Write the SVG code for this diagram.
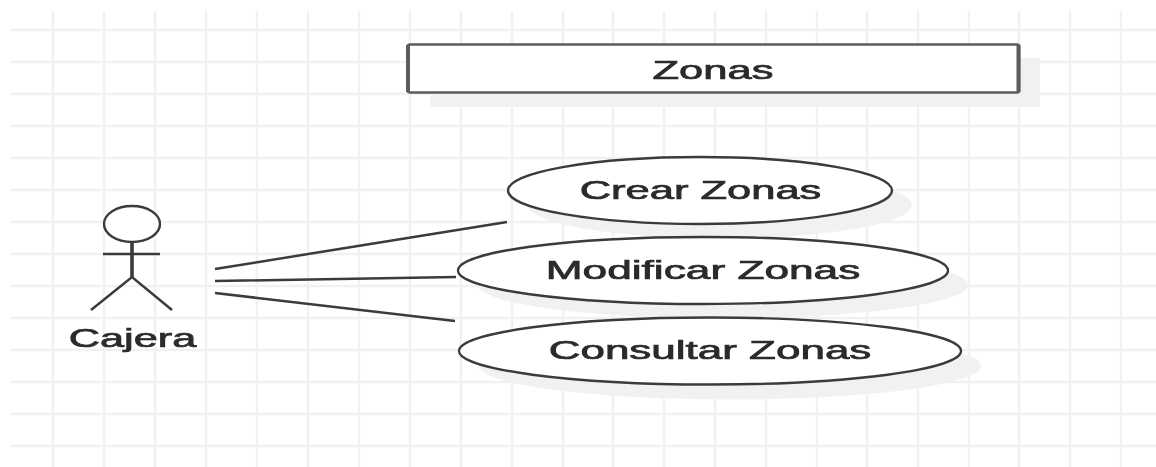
<svg xmlns="http://www.w3.org/2000/svg" width="1156" height="467" viewBox="0 0 1156 467">
<style>
.g{stroke:#f1f1f1;stroke-width:2.400;fill:none}
.sh{fill:#f1f1f1;stroke:none}
.n{fill:#fff;stroke:#3a3a3a;stroke-width:2.400}
.l{stroke:#3a3a3a;stroke-width:2.500;fill:none}
.t{font-family:"Liberation Sans",Arial,sans-serif;font-size:25px;fill:#2a2a2a;text-anchor:middle;stroke:#2a2a2a;stroke-width:.7}
</style>
<defs><filter id="b" x="-5%" y="-5%" width="110%" height="110%"><feGaussianBlur stdDeviation="0.7"/></filter></defs>
<rect width="1156" height="467" fill="#fff"/>
<g filter="url(#b)">
<path class="g" d="M11 30H1156M11 62H1156M11 94H1156M11 126H1156M11 158H1156M11 190H1156M11 222H1156M11 254H1156M11 286H1156M11 318H1156M11 350H1156M11 382H1156M11 414H1156M11 446H1156"/>
<path class="g" d="M53 11V467M104 11V467M155 11V467M206 11V467M257 11V467M308 11V467M359 11V467M410 11V467M461 11V467M512 11V467M563 11V467M613 11V467M664 11V467M715 11V467M766 11V467M817 11V467M867 11V467M918 11V467M969 11V467M1019 11V467M1070 11V467M1121 11V467"/>
<g id="connectors">
<path class="l" d="M215 269L507 222M215 281L456 277M215 293L455 321"/>
</g>
<g id="actor-cajera">
<ellipse class="n" cx="132" cy="224" rx="28" ry="18"/>
<path class="l" d="M103 254H160M91 310L132 277L172 310"/>
<path d="M132 242V277" fill="none" stroke="#3a3a3a" stroke-width="3.600"/>
<text class="t" transform="translate(132.500 347) scale(1.730 1)">Cajera</text>
</g>
<g id="system-zonas">
<rect class="sh" x="430" y="58" width="610" height="49"/>
<rect x="408" y="44.500" width="611" height="48" rx="2" fill="#fff" stroke="#5c5c5c" stroke-width="2.600"/>
<path d="M408 45V92M1018.500 45V92" fill="none" stroke="#5c5c5c" stroke-width="4"/>
<text class="t" transform="translate(713 79) scale(1.740 1)">Zonas</text>
</g>
<g id="usecase-crear">
<ellipse class="sh" cx="720" cy="205" rx="192" ry="33.500"/>
<ellipse class="n" cx="700" cy="190.500" rx="192" ry="33.500"/>
<text class="t" transform="translate(700.500 199) scale(1.740 1)">Crear Zonas</text>
</g>
<g id="usecase-modificar">
<ellipse class="sh" cx="723" cy="285" rx="245" ry="33.500"/>
<ellipse class="n" cx="703" cy="270.500" rx="245" ry="33.500"/>
<text class="t" transform="translate(703 279) scale(1.770 1)">Modificar Zonas</text>
</g>
<g id="usecase-consultar">
<ellipse class="sh" cx="730" cy="366" rx="251" ry="33.500"/>
<ellipse class="n" cx="710" cy="351" rx="251" ry="33.500"/>
<text class="t" transform="translate(710 359) scale(1.760 1)">Consultar Zonas</text>
</g>
</g>
</svg>
